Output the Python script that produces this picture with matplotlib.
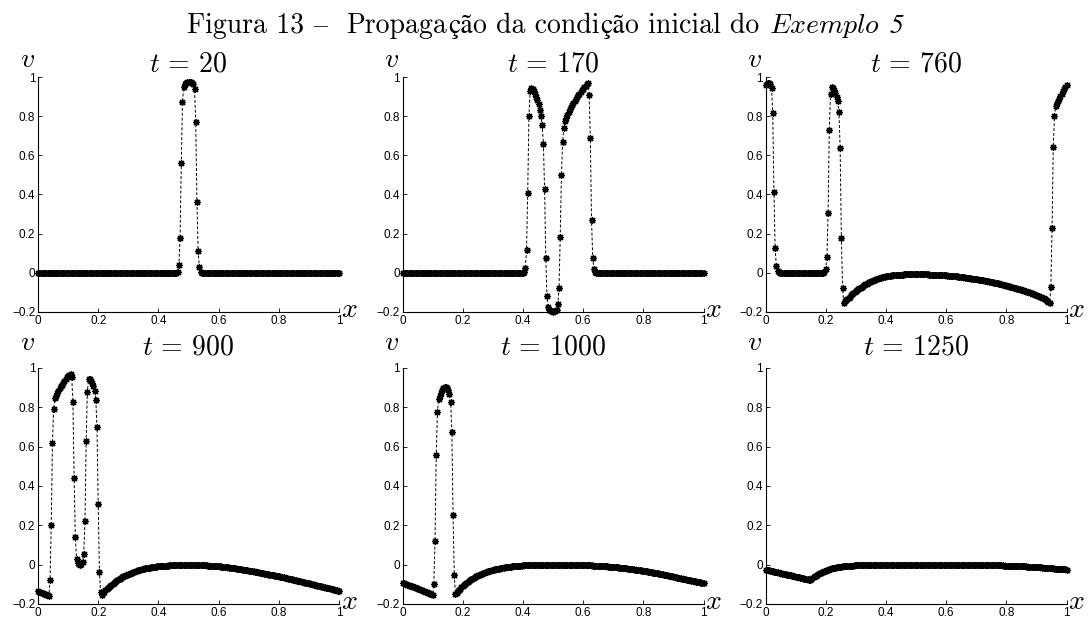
import numpy as np
import matplotlib
matplotlib.use('Agg')
from matplotlib import pylab as plt

plt.rcParams['mathtext.fontset'] = 'cm'
plt.rcParams['font.family'] = ['Liberation Sans', 'DejaVu Sans']

###########################################################################
#    DATA : v(x) on a uniform mesh of 251 points (one row = 25 points = 0.1 in x)
###########################################################################
x = np.linspace(0., 1., 251)
times = [20, 170, 760, 900, 1000, 1250]

v_t20 = [
 0, 0, 0, 0, 0, 0, 0, 0, 0, 0, 0, 0, 0, 0, 0, 0, 0, 0, 0, 0, 0, 0, 0, 0, 0,
 0, 0, 0, 0, 0, 0, 0, 0, 0, 0, 0, 0, 0, 0, 0, 0, 0, 0, 0, 0, 0, 0, 0, 0, 0,
 0, 0, 0, 0, 0, 0, 0, 0, 0, 0, 0, 0, 0, 0, 0, 0, 0, 0, 0, 0, 0, 0, 0, 0, 0,
 0, 0, 0, 0, 0, 0, 0, 0, 0, 0, 0, 0, 0, 0, 0, 0, 0, 0, 0, 0, 0, 0, 0, 0, 0,
 0, 0, 0, 0, 0, 0, 0, 0, 0, 0, 0, 0, 0, 0, 0, 0, 0.002, 0.04, 0.18, 0.56, 0.87, 0.95, 0.965, 0.97, 0.975,
 0.975, 0.975, 0.975, 0.97, 0.965, 0.94, 0.77, 0.36, 0.11, 0.03, 0.005, 0, 0, 0, 0, 0, 0, 0, 0, 0, 0, 0, 0, 0, 0,
 0, 0, 0, 0, 0, 0, 0, 0, 0, 0, 0, 0, 0, 0, 0, 0, 0, 0, 0, 0, 0, 0, 0, 0, 0,
 0, 0, 0, 0, 0, 0, 0, 0, 0, 0, 0, 0, 0, 0, 0, 0, 0, 0, 0, 0, 0, 0, 0, 0, 0,
 0, 0, 0, 0, 0, 0, 0, 0, 0, 0, 0, 0, 0, 0, 0, 0, 0, 0, 0, 0, 0, 0, 0, 0, 0,
 0, 0, 0, 0, 0, 0, 0, 0, 0, 0, 0, 0, 0, 0, 0, 0, 0, 0, 0, 0, 0, 0, 0, 0, 0,
 0]

v_t170 = [
 0, 0, 0, 0, 0, 0, 0, 0, 0, 0, 0, 0, 0, 0, 0, 0, 0, 0, 0, 0, 0, 0, 0, 0, 0,
 0, 0, 0, 0, 0, 0, 0, 0, 0, 0, 0, 0, 0, 0, 0, 0, 0, 0, 0, 0, 0, 0, 0, 0, 0,
 0, 0, 0, 0, 0, 0, 0, 0, 0, 0, 0, 0, 0, 0, 0, 0, 0, 0, 0, 0, 0, 0, 0, 0, 0,
 0, 0, 0, 0, 0, 0, 0, 0, 0, 0, 0, 0, 0, 0, 0, 0, 0, 0, 0, 0, 0, 0, 0, 0, 0,
 0, 0.003, 0.025, 0.115, 0.41, 0.80, 0.93, 0.945, 0.94, 0.93, 0.915, 0.90, 0.88, 0.86, 0.83, 0.80, 0.755, 0.66, 0.43, 0.075, -0.12, -0.175, -0.19, -0.195, -0.197,
 -0.198, -0.197, -0.195, -0.19, -0.16, -0.075, 0.185, 0.50, 0.67, 0.74, 0.775, 0.79, 0.805, 0.82, 0.835, 0.845, 0.857, 0.868, 0.878, 0.888, 0.897, 0.906, 0.915, 0.924, 0.933,
 0.94, 0.948, 0.955, 0.963, 0.97, 0.91, 0.69, 0.27, 0.075, 0.02, 0.005, 0, 0, 0, 0, 0, 0, 0, 0, 0, 0, 0, 0, 0, 0,
 0, 0, 0, 0, 0, 0, 0, 0, 0, 0, 0, 0, 0, 0, 0, 0, 0, 0, 0, 0, 0, 0, 0, 0, 0,
 0, 0, 0, 0, 0, 0, 0, 0, 0, 0, 0, 0, 0, 0, 0, 0, 0, 0, 0, 0, 0, 0, 0, 0, 0,
 0, 0, 0, 0, 0, 0, 0, 0, 0, 0, 0, 0, 0, 0, 0, 0, 0, 0, 0, 0, 0, 0, 0, 0, 0,
 0]

v_t760 = [
 0.957, 0.963, 0.967, 0.968, 0.962, 0.945, 0.815, 0.415, 0.125, 0.034, 0.008, 0.002, 0, 0, 0, 0, 0, 0, 0, 0, 0, 0, 0, 0, 0,
 0, 0, 0, 0, 0, 0, 0, 0, 0, 0, 0, 0, 0, 0, 0, 0, 0, 0, 0, 0, 0, 0, 0, 0, 0.003,
 0.02, 0.08, 0.306, 0.73, 0.913, 0.95, 0.945, 0.935, 0.92, 0.90, 0.875, 0.82, 0.638, 0.18, -0.077, -0.152, -0.146, -0.139, -0.133, -0.127, -0.121, -0.115, -0.109, -0.103, -0.098,
 -0.093, -0.088, -0.083, -0.079, -0.075, -0.071, -0.067, -0.063, -0.059, -0.056, -0.052, -0.049, -0.046, -0.043, -0.040, -0.037, -0.035, -0.032, -0.030, -0.028, -0.026, -0.024, -0.022, -0.021, -0.019,
 -0.018, -0.017, -0.016, -0.015, -0.014, -0.013, -0.012, -0.012, -0.011, -0.011, -0.010, -0.010, -0.009, -0.009, -0.009, -0.008, -0.008, -0.008, -0.008, -0.007, -0.007, -0.007, -0.007, -0.007, -0.007,
 -0.007, -0.007, -0.007, -0.007, -0.007, -0.007, -0.008, -0.008, -0.008, -0.008, -0.008, -0.009, -0.009, -0.009, -0.009, -0.010, -0.010, -0.010, -0.011, -0.011, -0.011, -0.012, -0.012, -0.012, -0.013,
 -0.013, -0.014, -0.014, -0.015, -0.015, -0.016, -0.016, -0.017, -0.018, -0.018, -0.019, -0.020, -0.021, -0.021, -0.022, -0.023, -0.024, -0.025, -0.026, -0.027, -0.028, -0.029, -0.030, -0.031, -0.032,
 -0.033, -0.034, -0.035, -0.036, -0.037, -0.038, -0.039, -0.040, -0.041, -0.042, -0.044, -0.045, -0.046, -0.047, -0.049, -0.050, -0.051, -0.053, -0.054, -0.055, -0.057, -0.058, -0.060, -0.061, -0.063,
 -0.065, -0.066, -0.068, -0.070, -0.071, -0.073, -0.075, -0.077, -0.078, -0.080, -0.082, -0.084, -0.086, -0.088, -0.090, -0.092, -0.094, -0.096, -0.098, -0.100, -0.103, -0.105, -0.107, -0.110, -0.112,
 -0.115, -0.117, -0.120, -0.122, -0.125, -0.128, -0.131, -0.134, -0.138, -0.142, -0.147, -0.153, -0.07, 0.23, 0.64, 0.80, 0.85, 0.865, 0.877, 0.89, 0.903, 0.915, 0.927, 0.938, 0.948,
 0.957]

v_t900 = [
 -0.135, -0.137, -0.140, -0.142, -0.145, -0.147, -0.150, -0.152, -0.155, -0.157, -0.076, 0.20, 0.62, 0.79, 0.846, 0.86, 0.873, 0.885, 0.896, 0.906, 0.916, 0.926, 0.935, 0.944, 0.952,
 0.96, 0.966, 0.97, 0.955, 0.825, 0.44, 0.14, 0.03, 0.01, 0.002, 0, 0.003, 0.015, 0.055, 0.22, 0.63, 0.88, 0.945, 0.943, 0.935, 0.925, 0.91, 0.885, 0.838, 0.70,
 0.31, -0.035, -0.14, -0.152, -0.145, -0.138, -0.131, -0.125, -0.119, -0.113, -0.108, -0.102, -0.097, -0.092, -0.088, -0.083, -0.079, -0.075, -0.071, -0.067, -0.063, -0.060, -0.057, -0.053, -0.050,
 -0.047, -0.045, -0.042, -0.040, -0.037, -0.035, -0.033, -0.031, -0.029, -0.027, -0.025, -0.024, -0.022, -0.021, -0.019, -0.018, -0.017, -0.016, -0.015, -0.013, -0.012, -0.011, -0.011, -0.010, -0.009,
 -0.008, -0.008, -0.007, -0.007, -0.006, -0.006, -0.005, -0.005, -0.005, -0.004, -0.004, -0.004, -0.003, -0.003, -0.003, -0.003, -0.002, -0.002, -0.002, -0.002, -0.002, -0.002, -0.002, -0.002, -0.002,
 -0.002, -0.002, -0.002, -0.002, -0.002, -0.002, -0.002, -0.003, -0.003, -0.003, -0.003, -0.003, -0.004, -0.004, -0.004, -0.004, -0.005, -0.005, -0.005, -0.005, -0.006, -0.006, -0.006, -0.007, -0.007,
 -0.008, -0.009, -0.010, -0.010, -0.011, -0.012, -0.012, -0.013, -0.014, -0.015, -0.016, -0.016, -0.017, -0.018, -0.019, -0.020, -0.021, -0.022, -0.023, -0.024, -0.025, -0.026, -0.027, -0.028, -0.029,
 -0.030, -0.031, -0.032, -0.033, -0.034, -0.036, -0.037, -0.038, -0.039, -0.040, -0.041, -0.042, -0.044, -0.045, -0.046, -0.047, -0.048, -0.050, -0.051, -0.052, -0.053, -0.055, -0.056, -0.057, -0.058,
 -0.060, -0.061, -0.063, -0.064, -0.065, -0.067, -0.068, -0.069, -0.071, -0.072, -0.074, -0.075, -0.076, -0.078, -0.079, -0.081, -0.082, -0.083, -0.085, -0.086, -0.088, -0.089, -0.091, -0.092, -0.094,
 -0.095, -0.097, -0.098, -0.100, -0.101, -0.103, -0.104, -0.106, -0.107, -0.109, -0.110, -0.112, -0.113, -0.115, -0.117, -0.118, -0.120, -0.121, -0.123, -0.124, -0.126, -0.128, -0.129, -0.131, -0.133,
 -0.135]

v_t1000 = [
 -0.092, -0.094, -0.097, -0.099, -0.102, -0.104, -0.107, -0.109, -0.111, -0.114, -0.116, -0.119, -0.121, -0.124, -0.126, -0.129, -0.131, -0.133, -0.136, -0.138, -0.141, -0.143, -0.146, -0.148, -0.151,
 -0.153, -0.10, 0.12, 0.56, 0.775, 0.84, 0.86, 0.875, 0.888, 0.897, 0.903, 0.905, 0.90, 0.888, 0.87, 0.825, 0.675, 0.254, -0.055, -0.15, -0.143, -0.136, -0.129, -0.122, -0.116,
 -0.110, -0.104, -0.098, -0.093, -0.088, -0.083, -0.079, -0.075, -0.071, -0.067, -0.063, -0.060, -0.057, -0.054, -0.051, -0.048, -0.045, -0.043, -0.041, -0.038, -0.036, -0.034, -0.032, -0.031, -0.029,
 -0.027, -0.026, -0.024, -0.023, -0.021, -0.020, -0.019, -0.018, -0.016, -0.015, -0.014, -0.013, -0.012, -0.012, -0.011, -0.010, -0.009, -0.009, -0.008, -0.007, -0.007, -0.006, -0.006, -0.005, -0.005,
 -0.004, -0.004, -0.004, -0.003, -0.003, -0.003, -0.003, -0.002, -0.002, -0.002, -0.002, -0.002, -0.001, -0.001, -0.001, -0.001, -0.001, -0.001, -0.001, -0.001, -0.001, -0.001, -0.001, -0.001, -0.001,
 -0.001, -0.001, -0.001, -0.001, -0.001, -0.001, -0.001, -0.001, -0.001, -0.001, -0.001, -0.001, -0.002, -0.002, -0.002, -0.002, -0.002, -0.002, -0.002, -0.002, -0.002, -0.002, -0.002, -0.002, -0.003,
 -0.003, -0.003, -0.003, -0.003, -0.004, -0.004, -0.004, -0.004, -0.005, -0.005, -0.005, -0.006, -0.006, -0.006, -0.007, -0.007, -0.008, -0.008, -0.008, -0.009, -0.009, -0.010, -0.010, -0.011, -0.011,
 -0.012, -0.012, -0.013, -0.013, -0.014, -0.015, -0.015, -0.016, -0.017, -0.017, -0.018, -0.019, -0.020, -0.020, -0.021, -0.022, -0.023, -0.024, -0.025, -0.025, -0.026, -0.027, -0.028, -0.029, -0.030,
 -0.031, -0.032, -0.033, -0.034, -0.035, -0.036, -0.037, -0.038, -0.040, -0.041, -0.042, -0.043, -0.044, -0.046, -0.047, -0.048, -0.049, -0.051, -0.052, -0.053, -0.055, -0.056, -0.057, -0.059, -0.060,
 -0.062, -0.063, -0.064, -0.066, -0.067, -0.068, -0.070, -0.071, -0.072, -0.074, -0.075, -0.076, -0.078, -0.079, -0.080, -0.082, -0.083, -0.084, -0.085, -0.087, -0.088, -0.089, -0.090, -0.091, -0.092,
 -0.092]

v_t1250 = [
 -0.025, -0.026, -0.028, -0.029, -0.031, -0.032, -0.034, -0.035, -0.036, -0.038, -0.039, -0.041, -0.042, -0.044, -0.045, -0.046, -0.048, -0.049, -0.051, -0.052, -0.054, -0.055, -0.056, -0.058, -0.059,
 -0.061, -0.062, -0.064, -0.065, -0.066, -0.068, -0.069, -0.071, -0.072, -0.074, -0.075, -0.077, -0.078, -0.075, -0.070, -0.065, -0.060, -0.056, -0.052, -0.048, -0.044, -0.041, -0.038, -0.035, -0.032,
 -0.030, -0.027, -0.025, -0.023, -0.021, -0.019, -0.018, -0.016, -0.015, -0.014, -0.013, -0.012, -0.011, -0.010, -0.009, -0.008, -0.008, -0.007, -0.007, -0.006, -0.006, -0.005, -0.005, -0.005, -0.004,
 -0.004, -0.004, -0.003, -0.003, -0.003, -0.003, -0.002, -0.002, -0.002, -0.002, -0.002, -0.002, -0.001, -0.001, -0.001, -0.001, -0.001, -0.001, -0.001, -0.001, -0.001, -0.001, -0.001, -0.001, -0.001,
 -0.001, -0.001, -0.001, -0.001, -0.001, -0.001, -0.001, -0.001, -0.001, -0.001, -0.001, -0.001, -0.001, -0.001, -0.001, -0.001, -0.001, -0.001, -0.001, -0.001, -0.001, -0.001, -0.001, -0.001, -0.001,
 -0.001, -0.001, -0.001, -0.001, -0.001, -0.001, -0.001, -0.001, -0.001, -0.001, -0.001, -0.001, -0.001, -0.001, -0.001, -0.001, -0.001, -0.001, -0.001, -0.001, -0.001, -0.001, -0.001, -0.001, -0.001,
 -0.001, -0.001, -0.001, -0.001, -0.001, -0.001, -0.001, -0.001, -0.001, -0.001, -0.001, -0.001, -0.002, -0.002, -0.002, -0.002, -0.002, -0.002, -0.002, -0.002, -0.002, -0.002, -0.002, -0.002, -0.002,
 -0.002, -0.002, -0.002, -0.002, -0.002, -0.002, -0.002, -0.002, -0.003, -0.003, -0.003, -0.003, -0.003, -0.003, -0.003, -0.003, -0.004, -0.004, -0.004, -0.004, -0.004, -0.004, -0.004, -0.005, -0.005,
 -0.005, -0.005, -0.005, -0.006, -0.006, -0.006, -0.006, -0.007, -0.007, -0.007, -0.007, -0.008, -0.008, -0.008, -0.009, -0.009, -0.009, -0.010, -0.010, -0.010, -0.011, -0.011, -0.011, -0.012, -0.012,
 -0.012, -0.013, -0.013, -0.014, -0.014, -0.015, -0.015, -0.016, -0.016, -0.017, -0.017, -0.018, -0.018, -0.019, -0.019, -0.020, -0.020, -0.021, -0.021, -0.022, -0.022, -0.023, -0.023, -0.024, -0.024,
 -0.025]

panels = [v_t20, v_t170, v_t760, v_t900, v_t1000, v_t1250]
for v in panels:
    assert len(v) == len(x), len(v)

xticks = [0, 0.2, 0.4, 0.6, 0.8, 1]
xticklabels = ['0', '0.2', '0.4', '0.6', '0.8', '1']
yticks = [-0.2, 0, 0.2, 0.4, 0.6, 0.8, 1]
yticklabels = ['\u22120.2', '0', '0.2', '0.4', '0.6', '0.8', '1']

# figure caption, split in runs : (text, font, style, spaces before)
# cmr10 has no accented letters, so those come from STIX
CM, ST = 'cmr10', 'STIXGeneral'
caption = [('Figura 13', CM, 'normal', 0), ('\u2013', ST, 'normal', 1),
           ('Propaga', CM, 'normal', 2), ('\u00e7\u00e3', ST, 'normal', 0),
           ('o da condi', CM, 'normal', 0), ('\u00e7\u00e3', ST, 'normal', 0),
           ('o inicial do', CM, 'normal', 0), (r'$\mathit{Exemplo}$', CM, 'normal', 1),
           ('5', ST, 'italic', 1)]

###########################################################################
#    FIGURE
###########################################################################
W, H = 1091., 621.
fig = plt.figure(figsize=(W/100., H/100.), dpi=100)

# axes boxes in pixels : left, bottom(y from top), width, height, gap above
lefts = [38, 402.5, 765.5]
rows = [(312, 235, 5), (604, 236, 13)]

for k, (t, v) in enumerate(zip(times, panels)):
    l = lefts[k % 3]
    yb, h, gap = rows[k // 3]
    ax = fig.add_axes([l/W, 1 - yb/H, 301/W, h/H])
    ax.plot(x, v, color='k', ls='--', lw=0.7, dashes=(3, 2),
            marker=(8, 2, 0), ms=5, mew=0.9, clip_on=False)
    ax.set_xlim(0, 1)
    ax.set_ylim(-0.2, 1)
    ax.set_xticks(xticks)
    ax.set_xticklabels(xticklabels)
    ax.set_yticks(yticks)
    ax.set_yticklabels(yticklabels)
    ax.tick_params(direction='in', length=3, width=0.6, labelsize=8.5, pad=2)
    for s in ['top', 'right']:
        ax.spines[s].set_visible(False)
    for s in ['left', 'bottom']:
        ax.spines[s].set_linewidth(0.8)
    ax.set_title(r'$t\,=\,%d$' % t, fontsize=20, pad=gap*0.72)
    ax.text(-0.035, 1 + (gap + 5)/h, r'$v$', transform=ax.transAxes,
            ha='center', va='baseline', fontsize=20)
    ax.text(1.005, 0.01, r'$x$', transform=ax.transAxes,
            ha='left', va='center', fontsize=20)

# caption : lay the runs one after the other, then centre the whole line
r = fig.canvas.get_renderer()
sp = fig.text(0, 0, 'a a', fontsize=20, family=CM)
sp2 = fig.text(0, 0, 'aa', fontsize=20, family=CM)
space = sp.get_window_extent(r).width - sp2.get_window_extent(r).width
sp.remove()
sp2.remove()
arts, xpos, cur = [], [], 0.
for s, fam, sty, nsp in caption:
    a = fig.text(0, 1 - 33/H, s, fontsize=20, family=fam, style=sty,
                 va='baseline', ha='left')
    cur += nsp*space
    xpos.append(cur)
    cur += a.get_window_extent(r).width + 0.5
    arts.append(a)
x0 = (W - cur)/2.
for a, xp in zip(arts, xpos):
    a.set_x((x0 + xp)/W)

plt.savefig('out.png', dpi=100)
